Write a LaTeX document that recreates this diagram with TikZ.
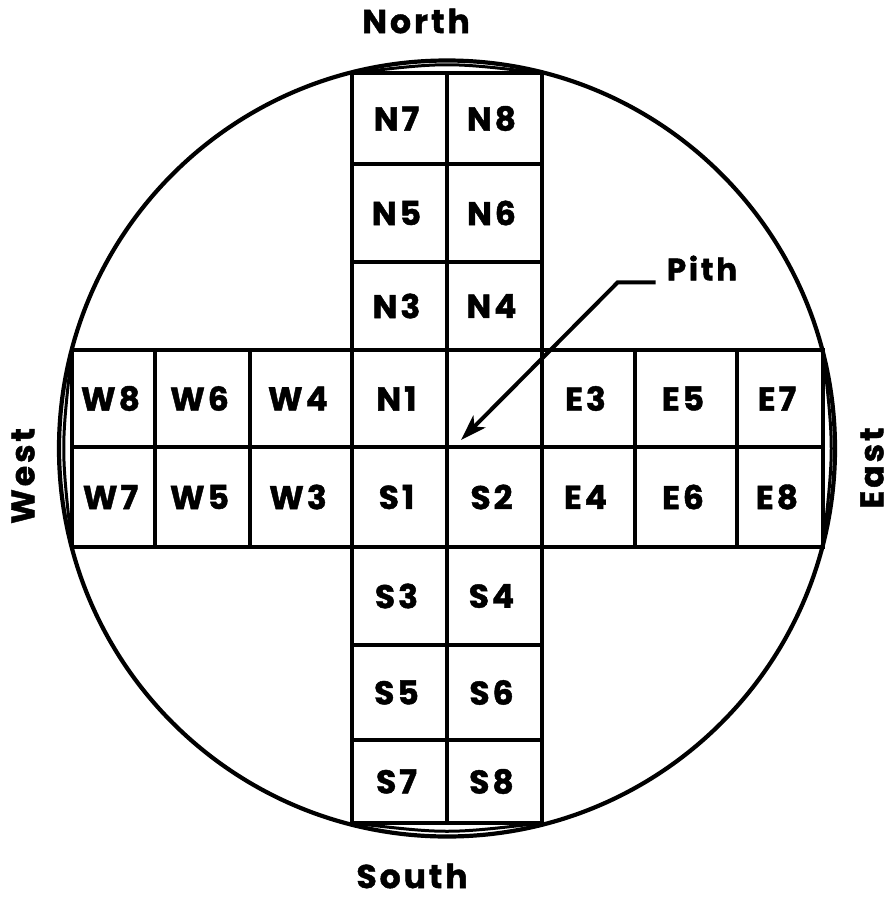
\documentclass[tikz,border=0pt]{standalone}
\usepackage{fontspec}
\setmainfont[LetterSpace=9, BoldFeatures={FakeBold=1.3}]{Poppins}
\usetikzlibrary{arrows.meta}
\newcommand\cellnode[6]{%
  \draw[gridline] (#2,#3) rectangle (#4,#5);
  \node[lbl] (#1) at ({(#2+#4)/2-3},{(#3+#5)/2}) {#6};}
\begin{document}
\begin{tikzpicture}[x=1pt,y=-1pt,
  gridline/.style={line width=3.8pt, line join=miter},
  lbl/.style={font=\fontsize{33}{33}\selectfont\bfseries, inner sep=0pt},
  dirlbl/.style={font=\fontsize{33}{33}\selectfont\bfseries, inner sep=0pt},
  endarc/.style={line width=3pt},
  pointer/.style={line width=4pt, -{Stealth[length=26pt,width=17pt,inset=7pt]}}]
\useasboundingbox (0,0) rectangle (896,898);
\fill[white] (0,0) rectangle (896,898);
% log outline
\node[circle, draw, line width=4.2pt, minimum size=776pt, inner sep=0pt] (log) at (447,448.5) {};
% north strip
\cellnode{N7}{352}{73}{447}{164}{N7}
\cellnode{N8}{447}{73}{542}{164}{N8}
\cellnode{N5}{352}{164}{447}{262}{N5}
\cellnode{N6}{447}{164}{542}{262}{N6}
\cellnode{N3}{352}{262}{447}{350}{N3}
\cellnode{N4}{447}{262}{542}{350}{N4}
% centre rows
\cellnode{W8}{72}{350}{155}{447}{W8}
\cellnode{W6}{155}{350}{250}{447}{W6}
\cellnode{W4}{250}{350}{352}{447}{W4}
\cellnode{N1}{352}{350}{447}{447}{N1}
\cellnode{P0}{447}{350}{542}{447}{}
\cellnode{E3}{542}{350}{635}{447}{E3}
\cellnode{E5}{635}{350}{737}{447}{E5}
\cellnode{E7}{737}{350}{823}{447}{E7}
\cellnode{W7}{72}{447}{155}{547}{W7}
\cellnode{W5}{155}{447}{250}{547}{W5}
\cellnode{W3}{250}{447}{352}{547}{W3}
\cellnode{S1}{352}{447}{447}{547}{S1}
\cellnode{S2}{447}{447}{542}{547}{S2}
\cellnode{E4}{542}{447}{635}{547}{E4}
\cellnode{E6}{635}{447}{737}{547}{E6}
\cellnode{E8}{737}{447}{823}{547}{E8}
% south strip
\cellnode{S3}{352}{547}{447}{645}{S3}
\cellnode{S4}{447}{547}{542}{645}{S4}
\cellnode{S5}{352}{645}{447}{740}{S5}
\cellnode{S6}{447}{645}{542}{740}{S6}
\cellnode{S7}{352}{740}{447}{823}{S7}
\cellnode{S8}{447}{740}{542}{823}{S8}
% end caps of the strips
\draw[endarc] (352,73) .. controls (447,62) .. (542,73);
\draw[endarc] (352,823) .. controls (447,834) .. (542,823);
\draw[endarc] (72,350) .. controls (61,448.5) .. (72,547);
\draw[endarc] (823,350) .. controls (834,448.5) .. (823,547);
% direction labels
\node[dirlbl] (north) at (416,21) {North};
\node[dirlbl] (south) at (412,876) {South};
\node[dirlbl, rotate=90] (west) at (23,476) {West};
\node[dirlbl, rotate=90] (east) at (872,468) {East};
% pith pointer
\node[lbl, font=\fontsize{31}{31}\selectfont\bfseries] (pith) at (702,268) {Pith};
\coordinate (pithpt) at (461,440);
\draw[pointer] ([xshift=-11pt,yshift=-2pt]pith.base west) -- ++(-38,0) -- (pithpt);
\end{tikzpicture}
\end{document}
